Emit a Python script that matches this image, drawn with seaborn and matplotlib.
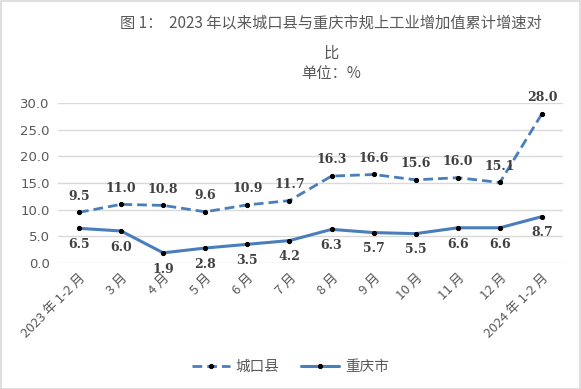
import matplotlib
matplotlib.use("Agg")
import matplotlib.pyplot as plt
import seaborn as sns
import pandas as pd
from matplotlib.patches import Rectangle

months = ["2023 年 1-2 月", "3 月", "4 月", "5 月", "6 月", "7 月", "8 月",
          "9 月", "10 月", "11 月", "12 月", "2024 年 1-2 月"]
chengkou = [9.5, 11.0, 10.8, 9.6, 10.9, 11.7, 16.3, 16.6, 15.6, 16.0, 15.1, 28.0]
chongqing = [6.5, 6.0, 1.9, 2.8, 3.5, 4.2, 6.3, 5.7, 5.5, 6.6, 6.6, 8.7]
y_ticks = [0, 5, 10, 15, 20, 25, 30]

sns.set_style("white")
plt.rcParams['font.family'] = ['Noto Sans CJK SC', 'DejaVu Sans']

blue = "#4a7ebb"
grey = "#595959"

fig = plt.figure(figsize=(5.81, 3.89), dpi=100)
ax = fig.add_axes([0.0998, 0.324, 0.8692, 0.411])

pos = list(range(len(months)))
df = pd.DataFrame({"pos": pos, "城口县": chengkou, "重庆市": chongqing})

sns.lineplot(data=df, x="pos", y="城口县", ax=ax, color=blue, lw=2,
             dashes=False, linestyle=(0, (3.5, 1.8)), marker="o", markersize=3,
             markerfacecolor="black", markeredgecolor="black", label="城口县")
sns.lineplot(data=df, x="pos", y="重庆市", ax=ax, color=blue, lw=2.2,
             marker="o", markersize=3,
             markerfacecolor="black", markeredgecolor="black", label="重庆市")

for i, v in enumerate(chengkou):
    ax.annotate(f"{v:.1f}", (i, v), xytext=(0, 7), textcoords="offset points",
                ha="center", va="bottom", fontsize=9, fontweight="bold",
                family="DejaVu Serif", color="#404040")
for i, v in enumerate(chongqing):
    ax.annotate(f"{v:.1f}", (i, v), xytext=(0, -7), textcoords="offset points",
                ha="center", va="top", fontsize=9, fontweight="bold",
                family="DejaVu Serif", color="#404040")

ax.set_xlim(-0.5, len(months) - 0.5)
ax.set_ylim(0, 30)
ax.set_yticks(y_ticks)
ax.set_yticklabels([f"{t:.1f}" for t in y_ticks], color=grey, fontsize=9.5,
                   family="DejaVu Sans")
ax.set_xticks(pos)
ax.set_xticklabels(months, rotation=45, ha="right", rotation_mode="anchor",
                   color=grey, fontsize=9.5)
ax.tick_params(axis="both", length=0, pad=6)
ax.yaxis.grid(True, color="#d9d9d9", lw=1)
ax.set_axisbelow(True)
for s in ax.spines.values():
    s.set_visible(False)
ax.set_xlabel("")
ax.set_ylabel("")

ax.legend(loc="center", bbox_to_anchor=(0.5, 0.057), bbox_transform=fig.transFigure,
          ncol=2, frameon=False, fontsize=10.5, handlelength=2.6,
          columnspacing=1.5, handletextpad=0.4, labelcolor=grey)

fig.text(0.57, 0.94, "图 1：  2023 年以来城口县与重庆市规上工业增加值累计增速对",
         ha="center", va="center", fontsize=11, color=grey)
fig.text(0.57, 0.864, "比", ha="center", va="center", fontsize=11, color=grey)
fig.text(0.57, 0.81, "单位：%", ha="center", va="center", fontsize=11, color=grey)

fig.patches.append(Rectangle((0.001, 0.001), 0.997, 0.996, transform=fig.transFigure,
                             fill=False, edgecolor="#d9d9d9", lw=1.2))

fig.savefig("out.png", dpi=100)
